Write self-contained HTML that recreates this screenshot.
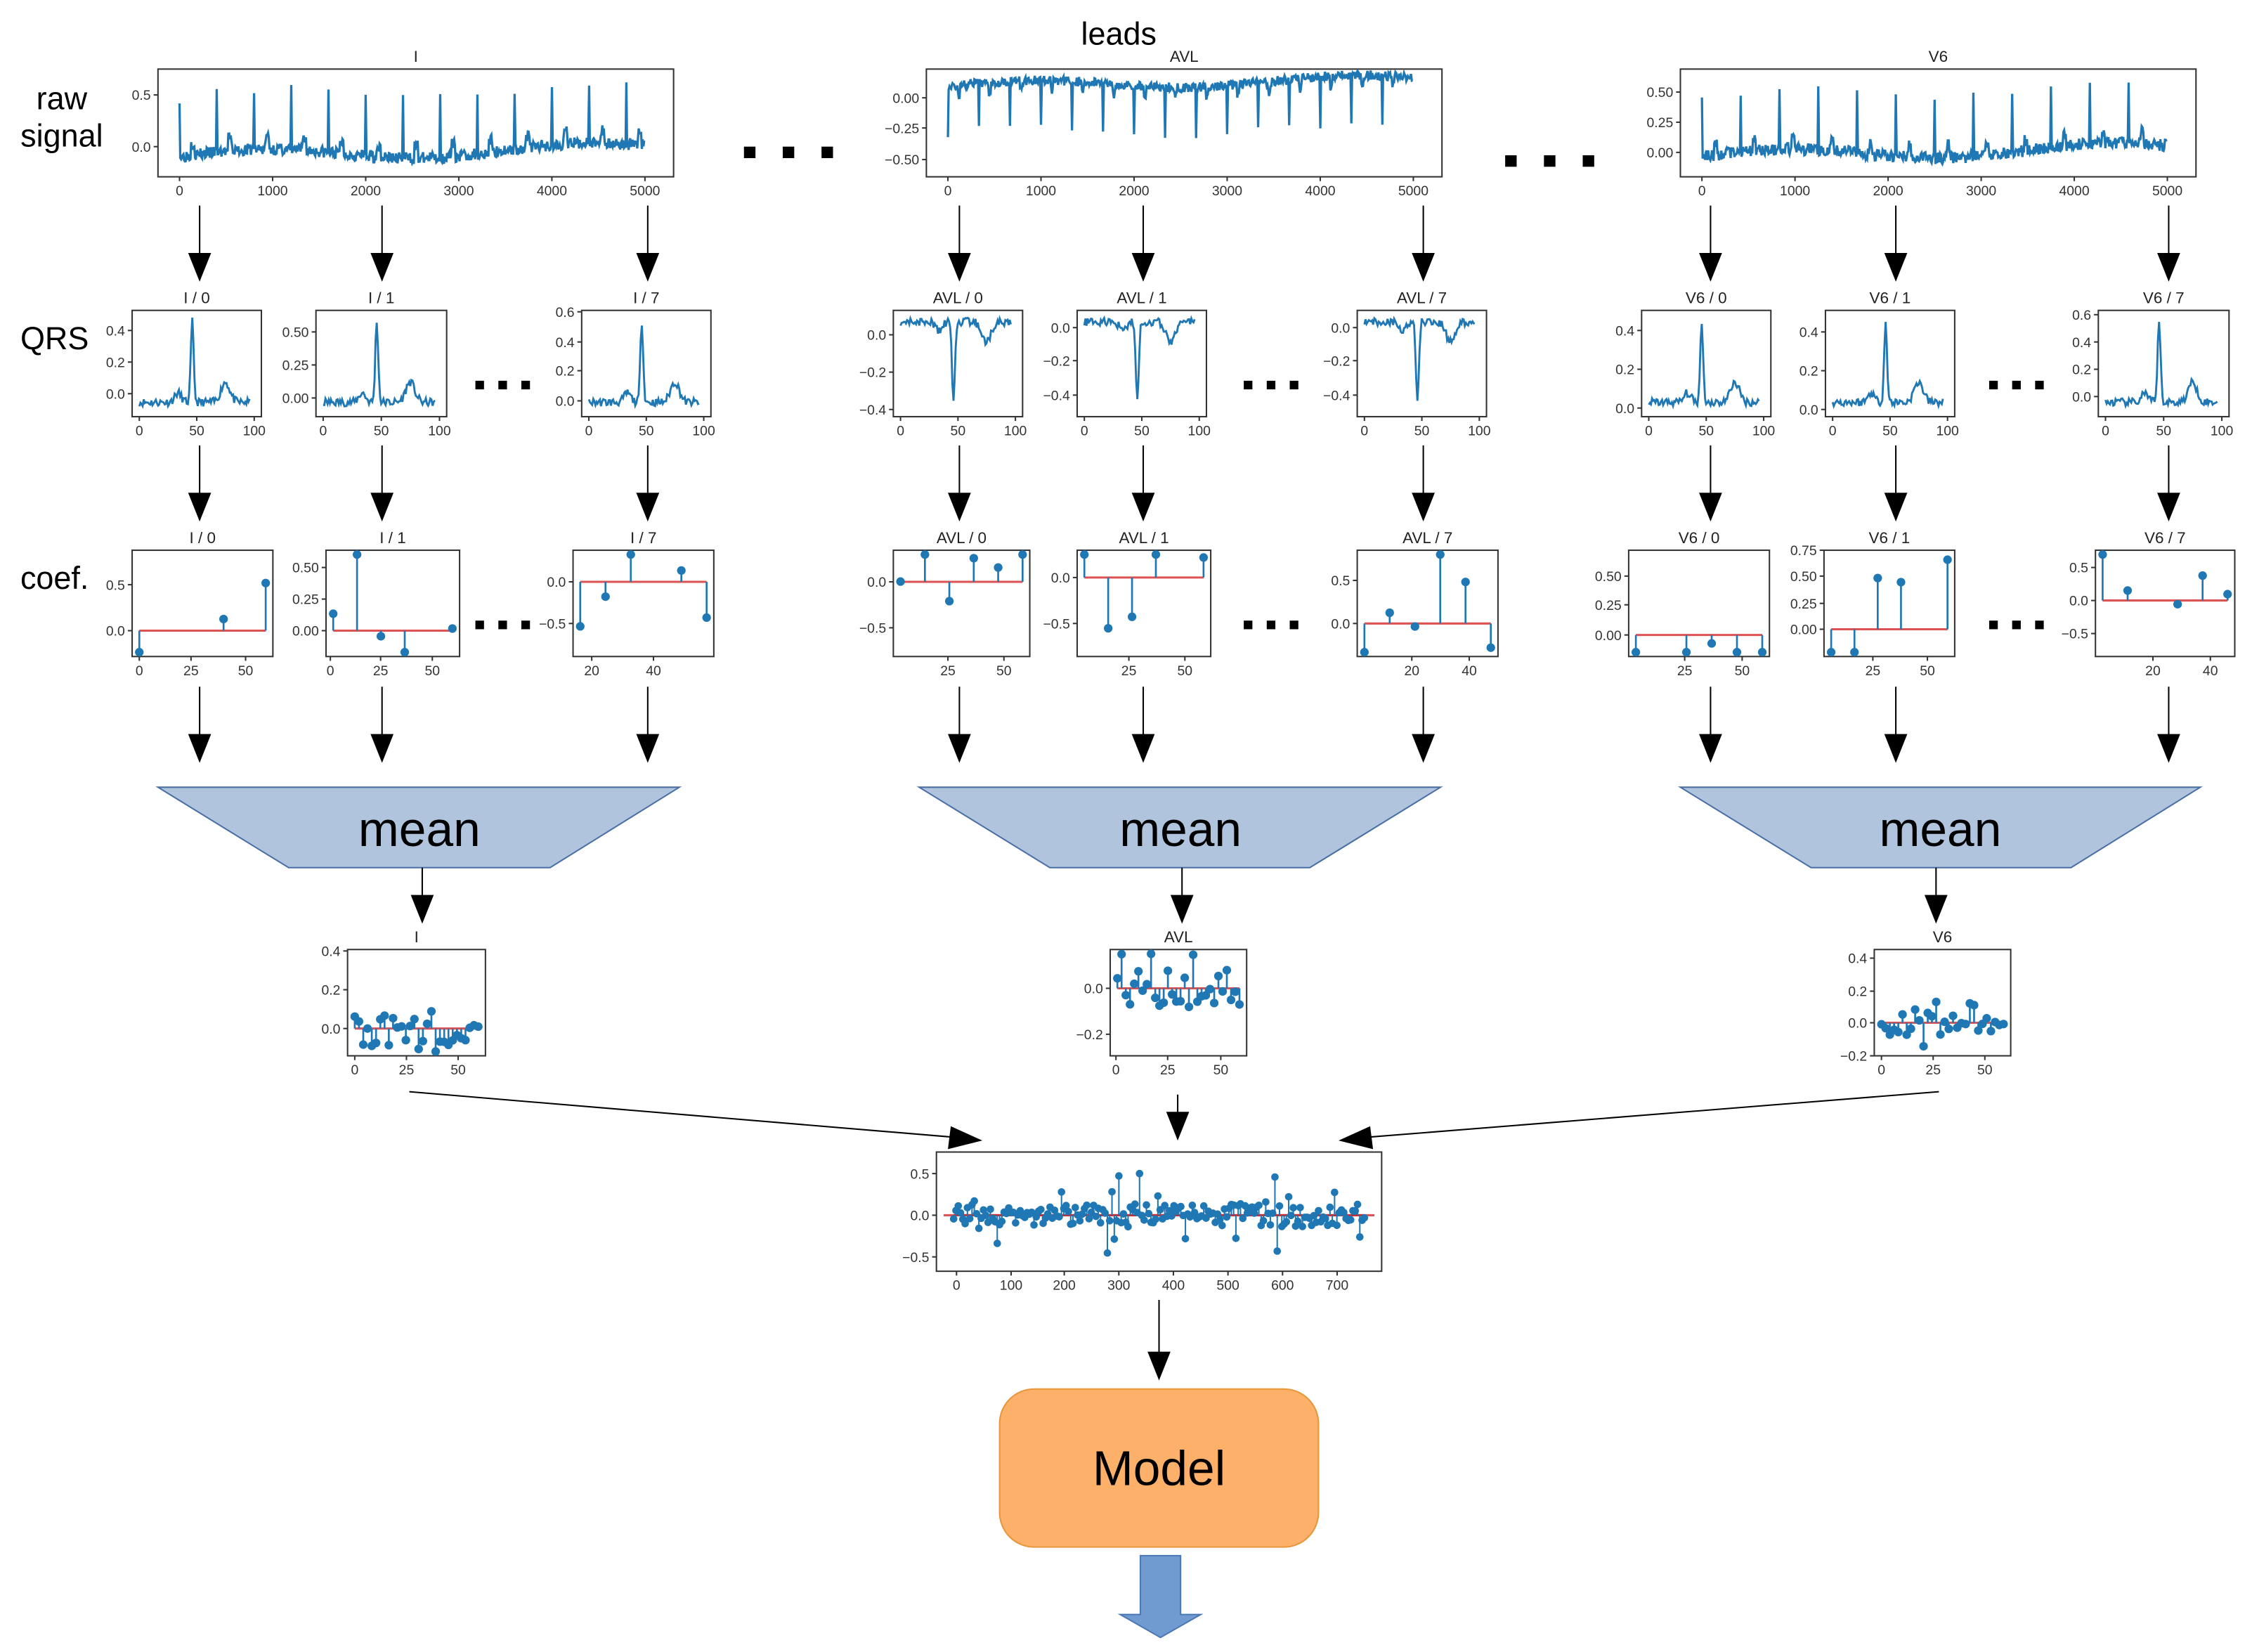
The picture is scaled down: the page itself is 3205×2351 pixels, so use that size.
<!DOCTYPE html>
<html><head><meta charset="utf-8">
<style>html,body{margin:0;padding:0;background:#fff;}svg{display:block;}</style></head>
<body>
<svg id="s" xmlns="http://www.w3.org/2000/svg" width="3205" height="2351" viewBox="0 0 1568 1150" font-family="Liberation Sans, sans-serif">
<rect width="1568" height="1150" fill="#fff"/>
<text x="43" y="76" font-size="22" text-anchor="middle">raw</text>
<text x="43" y="102" font-size="22" text-anchor="middle">signal</text>
<text x="779" y="31" font-size="22" text-anchor="middle">leads</text>
<text x="38" y="243" font-size="22" text-anchor="middle">QRS</text>
<text x="38" y="410" font-size="22" text-anchor="middle">coef.</text>
<g id="g"></g>
</svg>
<script>
var NS="http://www.w3.org/2000/svg",G=document.getElementById('g');
function el(t,a,txt){var e=document.createElementNS(NS,t);for(var k in a)e.setAttribute(k,a[k]);if(txt!=null)e.textContent=txt;G.appendChild(e);return e;}
var seed=7;function R(){seed=(seed*16807)%2147483647;return (seed-1)/2147483646;}
function gauss(x,m,s){return Math.exp(-(x-m)*(x-m)/(2*s*s));}
var BLUE="#1f77b4";
function frame(x0,y0,x1,y1,title,xt,yt){
  el('rect',{x:x0,y:y0,width:x1-x0,height:y1-y0,fill:'none',stroke:'#333','stroke-width':1});
  el('text',{x:(x0+x1)/2,y:y0-5,'font-size':11,'text-anchor':'middle',fill:'#222'},title);
  xt.forEach(function(t){el('line',{x1:t[0],y1:y1,x2:t[0],y2:y1+3,stroke:'#333'});el('text',{x:t[0],y:y1+13,'font-size':9.5,'text-anchor':'middle',fill:'#333'},t[1]);});
  yt.forEach(function(t){el('line',{x1:x0-3,y1:t[0],x2:x0,y2:t[0],stroke:'#333'});el('text',{x:x0-5,y:t[0]+3.5,'font-size':9.5,'text-anchor':'end',fill:'#333'},t[1]);});
}
function poly(pts,c,w){el('polyline',{points:pts.map(function(p){return p[0].toFixed(1)+','+p[1].toFixed(1)}).join(' '),fill:'none',stroke:c,'stroke-width':w||1.2});}
function raw(x0,y0,x1,y1,title,sign,period,ticks){
  var n=600,a=x0+15,b=x1-15;
  var xt=[];for(var i=0;i<=5;i++)xt.push([a+(b-a)*i/5*0.985,String(i*1000)]);
  frame(x0,y0,x1,y1,title,xt,ticks);
  var pts=[];
  for(var i=0;i<n;i++){var t=i/n;var v=(R()-0.5)*0.2+0.1*Math.sin(t*9)+0.15*t;
    var ph=(i%period)/period;if(ph<0.02)v+=1.0*sign;else if(ph>0.3&&ph<0.4)v+=0.2*sign;
    pts.push([a+(b-a)*0.985*t,v]);}
  var sc=(y1-y0)*0.55;
  if(sign>0)pts=pts.map(function(p){return[p[0],y1-14-p[1]*sc]});
  else pts=pts.map(function(p){return[p[0],y0+12-p[1]*sc*0.8]});
  poly(pts,BLUE,1.6);
}
function qrs(x0,y0,x1,y1,title,sign,yt){
  var a=x0+5,b=x1-5;
  frame(x0,y0,x1,y1,title,[[a,'0'],[(a+b)/2,'50'],[b,'100']],yt);
  var pts=[];
  for(var i=0;i<=100;i++){var v=(R()-0.5)*0.06+0.6*gauss(i,48,1.3)+0.15*gauss(i,78,4)+0.07*gauss(i,35,3);
    pts.push([a+(b-a)*i/100*0.96,v]);}
  pts=pts.map(function(p){return sign>0?[p[0],y1-10-p[1]*(y1-y0-16)/0.62]:[p[0],y0+8+p[1]*(y1-y0-16)/0.62]});
  poly(pts,BLUE,1.4);
}
function stem(x0,y0,x1,y1,title,xt,yt,n,by,seedv,amp){
  frame(x0,y0,x1,y1,title,xt,yt);
  seed=seedv;var a=x0+5,b=x1-5;amp=amp||1.0;
  el('line',{x1:a,y1:by,x2:b,y2:by,stroke:'#d62728','stroke-width':1.5,opacity:0.8});
  for(var i=0;i<n;i++){var x=a+(b-a)*(n==1?0:i/(n-1));var r=R();var v=by+(R()-0.5)*(y1-y0)*amp*(r>0.85?2.2:1);
    v=Math.max(y0+3,Math.min(y1-3,v));
    if(n<10&&i>0&&i<n-1&&R()<0.3)continue;
    el('line',{x1:x,y1:by,x2:x,y2:v,stroke:BLUE,'stroke-width':1.3});
    el('circle',{cx:x,cy:v,r:3,fill:BLUE});}
}
function arrow(x,y1,y2){el('line',{x1:x,y1:y1,x2:x,y2:y2-16,stroke:'#000','stroke-width':1});el('path',{d:'M'+(x-8)+','+(y2-20)+' L'+(x+8)+','+(y2-20)+' L'+x+','+y2+' Z'});}
function dots(x,y,s,g){for(var i=0;i<3;i++)el('rect',{x:x+i*g,y:y-s/2,width:s,height:s,fill:'#000'});}
seed=3;raw(110,48,469,123,'I',1,48,[[66,'0.5'],[102,'0.0']]);
raw(645,48,1004,123,'AVL',-1,40,[[68,'0.00'],[89,'−0.25'],[111,'−0.50']]);
raw(1170,48,1529,123,'V6',1,50,[[64,'0.50'],[85,'0.25'],[106,'0.00']]);
dots(518,106,8,27);dots(1048,112,8,27);
var cols=[[139,266,451],[668,796,991],[1191,1320,1510]];
cols.forEach(function(c){c.forEach(function(x){arrow(x,143,196);arrow(x,310,363);arrow(x,478,531);});});
seed=11;
qrs(92,216,182,290,'I / 0',1,[[230,'0.4'],[252,'0.2'],[274,'0.0']]);
qrs(220,216,311,290,'I / 1',1,[[231,'0.50'],[254,'0.25'],[277,'0.00']]);
qrs(405,216,495,290,'I / 7',1,[[217,'0.6'],[238,'0.4'],[258,'0.2'],[279,'0.0']]);
qrs(622,216,712,290,'AVL / 0',-1,[[233,'0.0'],[259,'−0.2'],[285,'−0.4']]);
qrs(750,216,840,290,'AVL / 1',-1,[[228,'0.0'],[251,'−0.2'],[275,'−0.4']]);
qrs(945,216,1035,290,'AVL / 7',-1,[[228,'0.0'],[251,'−0.2'],[275,'−0.4']]);
qrs(1143,216,1233,290,'V6 / 0',1,[[230,'0.4'],[257,'0.2'],[284,'0.0']]);
qrs(1271,216,1361,290,'V6 / 1',1,[[231,'0.4'],[258,'0.2'],[285,'0.0']]);
qrs(1461,216,1552,290,'V6 / 7',1,[[219,'0.6'],[238,'0.4'],[257,'0.2'],[276,'0.0']]);
dots(331,268,6,16);dots(866,268,6,16);dots(1385,268,6,16);
stem(92,383,190,457,'I / 0',[[97,'0'],[133,'25'],[171,'50']],[[407,'0.5'],[439,'0.0']],7,439,21);
stem(227,383,320,457,'I / 1',[[230,'0'],[265,'25'],[301,'50']],[[395,'0.50'],[417,'0.25'],[439,'0.00']],6,439,33);
stem(399,383,497,457,'I / 7',[[412,'20'],[455,'40']],[[405,'0.0'],[434,'−0.5']],6,405,45);
stem(622,383,717,457,'AVL / 0',[[660,'25'],[699,'50']],[[405,'0.0'],[437,'−0.5']],6,405,57);
stem(750,383,843,457,'AVL / 1',[[786,'25'],[825,'50']],[[402,'0.0'],[434,'−0.5']],6,402,61);
stem(945,383,1043,457,'AVL / 7',[[983,'20'],[1023,'40']],[[404,'0.5'],[434,'0.0']],6,434,75);
stem(1134,383,1232,457,'V6 / 0',[[1173,'25'],[1213,'50']],[[401,'0.50'],[421,'0.25'],[442,'0.00']],6,442,83);
stem(1270,383,1361,457,'V6 / 1',[[1304,'25'],[1342,'50']],[[383,'0.75'],[401,'0.50'],[420,'0.25'],[438,'0.00']],6,438,91);
stem(1459,383,1556,457,'V6 / 7',[[1499,'20'],[1539,'40']],[[395,'0.5'],[418,'0.0'],[441,'−0.5']],6,418,99);
dots(331,435,6,16);dots(866,435,6,16);dots(1385,435,6,16);
[[110,473,201,383,292],[640,1003,731,912,822],[1170,1532,1261,1442,1351]].forEach(function(m){
  el('path',{d:'M'+m[0]+',548 L'+m[1]+',548 L'+m[3]+',604 L'+m[2]+',604 Z',fill:'#b0c4de',stroke:'#4a6fa5','stroke-width':1});
  el('text',{x:m[4],y:589,'font-size':34,'text-anchor':'middle'},'mean');
});
arrow(294,604,643);arrow(823,604,643);arrow(1348,604,643);
stem(242,661,338,735,'I',[[247,'0'],[283,'25'],[319,'50']],[[662,'0.4'],[689,'0.2'],[716,'0.0']],30,716,123,0.35);
stem(773,661,868,735,'AVL',[[777,'0'],[813,'25'],[850,'50']],[[688,'0.0'],[720,'−0.2']],30,688,131,0.35);
stem(1305,661,1400,735,'V6',[[1310,'0'],[1346,'25'],[1382,'50']],[[667,'0.4'],[690,'0.2'],[712,'0.0'],[735,'−0.2']],30,712,141,0.3);
el('line',{x1:285,y1:760,x2:668,y2:792,stroke:'#000'});el('path',{d:'M684,794 L662,784 L660,800 Z'});
arrow(820,762,794);
el('line',{x1:1350,y1:760,x2:948,y2:792,stroke:'#000'});el('path',{d:'M932,794 L954,784 L956,800 Z'});
stem(652,802,962,885,'',[[666,'0'],[704,'100'],[741,'200'],[779,'300'],[817,'400'],[855,'500'],[893,'600'],[931,'700']],[[817,'0.5'],[846,'0.0'],[875,'−0.5']],0,846,1);
seed=5;(function(){var a=664,b=950;el('line',{x1:a,y1:846,x2:b,y2:846,stroke:'#d62728','stroke-width':1.5});
for(var i=0;i<180;i++){var x=a+(b-a)*i/179;var r=R();var v=846+(R()-0.5)*(r>0.9?60:16);
el('line',{x1:x,y1:846,x2:x,y2:v,stroke:BLUE,'stroke-width':1});el('circle',{cx:x,cy:v,r:2.6,fill:BLUE});}})();
arrow(807,905,961);
el('rect',{x:696,y:967,width:222,height:110,rx:24,fill:'#fdb06a',stroke:'#e8963a','stroke-width':1});
el('text',{x:807,y:1034,'font-size':34,'text-anchor':'middle'},'Model');
el('path',{d:'M794,1083 L822,1083 L822,1124 L836,1124 L808,1140 L780,1124 L794,1124 Z',fill:'#6f9bd1',stroke:'#4a78b5'});
</script>
</body></html>
